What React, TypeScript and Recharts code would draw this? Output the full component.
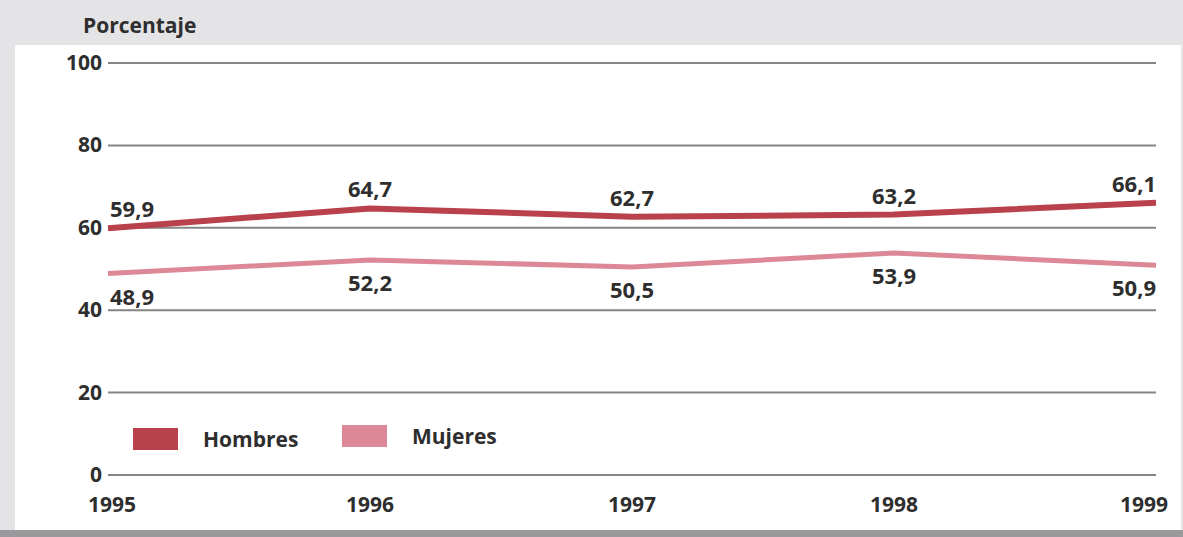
import React from 'react'
import { LineChart, Line, XAxis, YAxis, CartesianGrid, LabelList } from 'recharts'

const years = ['1995', '1996', '1997', '1998', '1999']
const hombres = [59.9, 64.7, 62.7, 63.2, 66.1]
const mujeres = [48.9, 52.2, 50.5, 53.9, 50.9]
const yTicks = [0, 20, 40, 60, 80, 100]

const data = years.map((year, i) => ({ year, hombres: hombres[i], mujeres: mujeres[i] }))

const COLORS = { hombres: '#b8414b', mujeres: '#dc8896' }
const FONT = '"Open Sans", "DejaVu Sans", sans-serif'
const TEXT = '#2e2e2e'
const NUM_SIZE = 22

const fmt = (v: number) => v.toFixed(1).replace('.', ',')

const YTick = ({ x, y, payload }: any) => (
  <text x={x + 2} y={y + 7} textAnchor="end" fontSize={21} fontWeight={700} fill={TEXT} fontFamily={FONT}>
    {payload.value}
  </text>
)

const XTick = ({ x, y, payload, index }: any) => {
  const dx = index === 0 ? 4 : index === years.length - 1 ? -12 : 0
  return (
    <text x={x + dx} y={y + 29} textAnchor="middle" fontSize={21} fontWeight={700} fill={TEXT} fontFamily={FONT}>
      {payload.value}
    </text>
  )
}

const makeLabel = (dy: number) => (props: any) => {
  const { x, y, value, index } = props
  const last = years.length - 1
  const anchor = index === 0 ? 'start' : index === last ? 'end' : 'middle'
  const dx = index === 0 ? 2 : 0
  return (
    <text x={x + dx} y={y + dy} textAnchor={anchor} fontSize={NUM_SIZE} fontWeight={700} fill={TEXT} fontFamily={FONT}>
      {fmt(value)}
    </text>
  )
}

function ChartLegend() {
  return (
    <div
      style={{
        position: 'absolute', left: 133, top: 419, display: 'flex', alignItems: 'center',
        fontFamily: FONT, fontWeight: 700, fontSize: 21, color: TEXT,
      }}
    >
      <span style={{ width: 45, height: 22, background: COLORS.hombres, display: 'inline-block', marginTop: 6 }} />
      <span style={{ marginLeft: 25, width: 139, marginTop: 6 }}>Hombres</span>
      <span style={{ width: 45, height: 22, background: COLORS.mujeres, display: 'inline-block' }} />
      <span style={{ marginLeft: 25 }}>Mujeres</span>
    </div>
  )
}

export default function App() {
  return (
    <div style={{ position: 'absolute', left: 0, top: 0, width: 1183, height: 537, background: '#e4e4e6', overflow: 'hidden' }}>
      <div style={{ position: 'absolute', left: 15, top: 45, width: 1166, height: 485, background: '#ffffff' }} />
      <div style={{ position: 'absolute', left: 0, top: 530, width: 1183, height: 7, background: '#9a9a9c' }} />
      <div
        style={{
          position: 'absolute', left: 83, top: 11, fontFamily: FONT, fontWeight: 700, fontSize: 21, color: TEXT,
        }}
      >
        Porcentaje
      </div>
      <div style={{ position: 'absolute', left: 0, top: 0 }}>
        <LineChart width={1183} height={537} data={data} margin={{ top: 63, right: 27, bottom: 0, left: 0 }}>
          <CartesianGrid vertical={false} stroke="#858585" strokeWidth={2} />
          <XAxis dataKey="year" height={62} axisLine={false} tickLine={false} tick={<XTick />} interval={0} />
          <YAxis
            width={108}
            domain={[0, 100]}
            ticks={yTicks}
            axisLine={false}
            tickLine={false}
            tick={<YTick />}
            interval={0}
          />
          <Line
            dataKey="hombres"
            name="Hombres"
            type="linear"
            stroke={COLORS.hombres}
            strokeWidth={6}
            dot={false}
            isAnimationActive={false}
          >
            <LabelList dataKey="hombres" content={makeLabel(-11)} />
          </Line>
          <Line
            dataKey="mujeres"
            name="Mujeres"
            type="linear"
            stroke={COLORS.mujeres}
            strokeWidth={5}
            dot={false}
            isAnimationActive={false}
          >
            <LabelList dataKey="mujeres" content={makeLabel(31)} />
          </Line>
        </LineChart>
      </div>
      <ChartLegend />
    </div>
  )
}
